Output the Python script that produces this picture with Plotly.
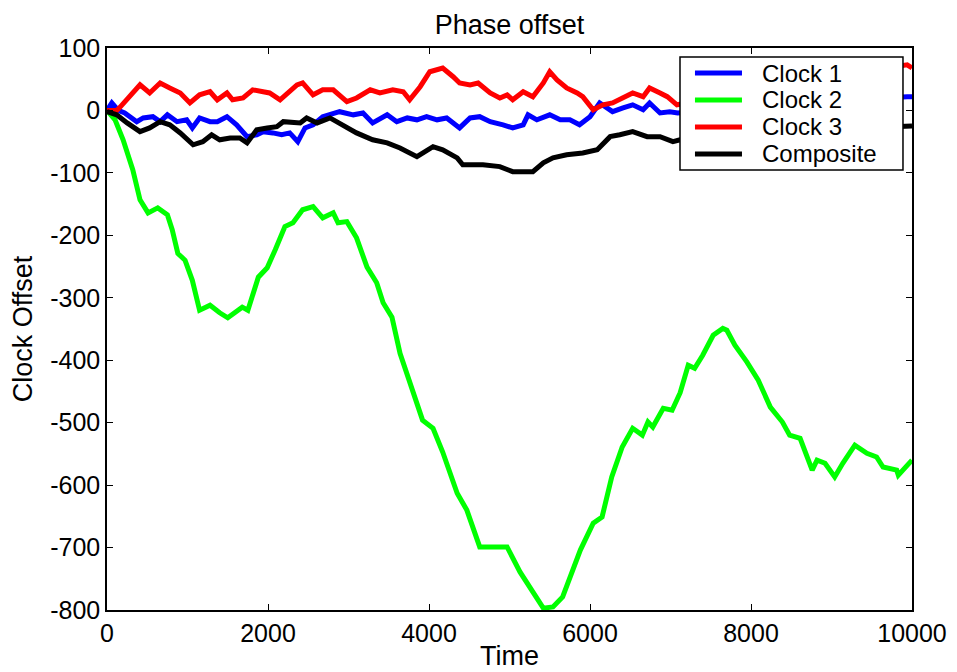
import plotly.graph_objects as go

# ---------------- data ----------------
clock1_t = [0, 60, 140, 220, 370, 450, 570, 660, 750, 870, 990, 1060, 1150, 1280, 1370,
            1490, 1610, 1740, 1860, 1940, 2060, 2170, 2270, 2370, 2460, 2560, 2680, 2890,
            3060, 3180, 3300, 3480, 3600, 3730, 3850, 3970, 4100, 4220, 4380, 4510, 4630,
            4760, 4920, 5040, 5170, 5230, 5340, 5500, 5630, 5750, 5870, 6000, 6120, 6280,
            6410, 6530, 6660, 6740, 6870, 6990, 7090, 8000, 9000, 9940, 10000]
clock1_v = [0, 12, 0, -4, -18, -12, -10, -18, -7, -18, -15, -28, -12, -18, -18,
            -10, -23, -42, -39, -34, -36, -39, -36, -50, -28, -23, -10, -2,
            -7, -4, -20, -7, -18, -12, -15, -10, -15, -12, -28, -12, -10,
            -18, -23, -28, -23, -7, -15, -7, -15, -15, -23, -10, 12, -2,
            4, 9, 1, 12, -4, -2, -4, 5, 15, 22, 22]

clock2_t = [0, 100, 200, 320, 410, 510, 630, 750, 810, 880, 970, 1060, 1150, 1280, 1400,
            1500, 1680, 1750, 1880, 1990, 2090, 2210, 2310, 2430, 2560, 2680, 2810, 2870,
            2980, 3100, 3230, 3350, 3430, 3540, 3640, 3760, 3920, 4050, 4170, 4350, 4470,
            4630, 4800, 4970, 5130, 5290, 5420, 5540, 5660, 5880, 6040, 6150, 6270, 6400,
            6530, 6650, 6720, 6780, 6910, 7020, 7120, 7220, 7300, 7400, 7530, 7650, 7700,
            7800, 7950, 8090, 8240, 8390, 8480, 8610, 8760, 8820, 8920, 9040, 9140, 9290,
            9440, 9560, 9640, 9810, 9830, 10000]
clock2_v = [0, -15, -47, -95, -143, -164, -156, -167, -191, -229, -240, -272, -320, -312, -324,
            -332, -315, -320, -267, -252, -223, -186, -180, -159, -154, -172, -164, -180,
            -178, -204, -251, -276, -308, -331, -389, -435, -496, -509, -547, -613, -640,
            -699, -699, -699, -739, -773, -797, -795, -779, -704, -661, -651, -587, -539,
            -509, -520, -499, -507, -477, -480, -452, -408, -413, -392, -360, -349, -352,
            -376, -403, -432, -475, -499, -520, -525, -576, -560, -565, -587, -565, -536,
            -549, -555, -571, -576, -584, -560]

clock3_t = [0, 120, 160, 290, 410, 530, 660, 780, 910, 1030, 1150, 1280, 1370, 1490, 1560,
            1690, 1810, 1940, 2020, 2150, 2270, 2360, 2430, 2560, 2680, 2810, 2980, 3100,
            3270, 3390, 3550, 3680, 3760, 3890, 4010, 4170, 4300, 4380, 4510, 4610, 4760,
            4880, 4970, 5040, 5170, 5290, 5420, 5500, 5590, 5710, 5840, 5910, 6040, 6160,
            6280, 6410, 6530, 6660, 6740, 6870, 6960, 7080, 8000, 9000, 9940, 10000]
clock3_v = [0, 0, 5, 25, 41, 28, 44, 36, 28, 12, 25, 30, 17, 28, 17,
            20, 33, 30, 28, 17, 30, 41, 44, 25, 33, 33, 14, 20,
            33, 28, 33, 30, 17, 38, 62, 68, 54, 44, 41, 44, 28,
            20, 25, 17, 30, 22, 44, 62, 49, 36, 28, 22, 1, 9,
            12, 20, 28, 22, 36, 28, 22, 9, 30, 55, 73, 68]

comp_t = [0, 120, 250, 410, 530, 660, 780, 910, 1070, 1190, 1300, 1400, 1530, 1650, 1740,
          1860, 1990, 2110, 2190, 2310, 2400, 2480, 2610, 2770, 2930, 3100, 3300, 3480,
          3640, 3850, 4050, 4170, 4350, 4420, 4670, 4880, 5040, 5290, 5420, 5540, 5710,
          5910, 6090, 6250, 6370, 6530, 6710, 6870, 7030, 7120, 8000, 9000, 9940, 10000]
comp_v = [-2, -7, -20, -34, -28, -18, -23, -36, -55, -50, -39, -47, -44, -44, -52,
          -31, -28, -26, -18, -18, -20, -12, -20, -12, -23, -36, -47, -52,
          -60, -74, -58, -63, -76, -87, -87, -90, -98, -98, -84, -76, -71,
          -68, -63, -42, -39, -34, -42, -42, -50, -47, -35, -30, -26, -25]

series_names = ["Clock 1", "Clock 2", "Clock 3", "Composite"]
series_colors = ["#0000ff", "#00ff00", "#ff0000", "#000000"]

x_ticks = [0, 2000, 4000, 6000, 8000, 10000]
x_tick_labels = ["0", "2000", "4000", "6000", "8000", "10000"]
y_ticks = [100, 0, -100, -200, -300, -400, -500, -600, -700, -800]
y_tick_labels = ["100", "0", "-100", "-200", "-300", "-400", "-500", "-600", "-700", "-800"]

# ---------------- figure ----------------
FONT = "Liberation Sans, Arial, Helvetica, sans-serif"
fig = go.Figure()
data = [(clock1_t, clock1_v), (clock2_t, clock2_v), (clock3_t, clock3_v), (comp_t, comp_v)]
for (t, v), name, col in zip(data, series_names, series_colors):
    fig.add_trace(go.Scatter(x=t, y=v, mode="lines", name=name, showlegend=False,
                             line=dict(color=col, width=5)))

axis_common = dict(showgrid=False, zeroline=False, showline=True, linecolor="black",
                   linewidth=1.5, mirror="ticks", ticks="inside", ticklen=6,
                   tickcolor="black", tickwidth=1.2, automargin=False,
                   tickfont=dict(family=FONT, size=25, color="black"))
fig.update_xaxes(range=[0, 10000], tickvals=x_ticks, ticktext=x_tick_labels,
                 title=dict(text="Time", font=dict(family=FONT, size=27, color="black"), standoff=0),
                 **axis_common)
fig.update_yaxes(range=[-800, 100], tickvals=y_ticks, ticktext=y_tick_labels,
                 title=dict(text="Clock Offset", font=dict(family=FONT, size=27, color="black"), standoff=10),
                 **axis_common)

# manual legend (MATLAB style box)
lx0, lx1, ly0, ly1 = 0.7118, 0.9888, 0.7830, 0.984
shapes = [dict(type="rect", xref="paper", yref="paper", x0=lx0, x1=lx1, y0=ly0, y1=ly1,
               fillcolor="white", line=dict(color="black", width=1.5), layer="above")]
annotations = []
item_y = [0.9555, 0.9075, 0.8595, 0.8115]
for name, col, yy in zip(series_names, series_colors, item_y):
    shapes.append(dict(type="line", xref="paper", yref="paper", x0=0.7304, x1=0.7888,
                       y0=yy, y1=yy, line=dict(color=col, width=5), layer="above"))
    annotations.append(dict(text=name, xref="paper", yref="paper", x=0.8112, y=yy,
                            xanchor="left", yanchor="middle", showarrow=False,
                            font=dict(family=FONT, size=24, color="black")))

fig.update_layout(
    width=949, height=664, autosize=False,
    margin=dict(l=99, r=45, t=40, b=62),
    paper_bgcolor="white", plot_bgcolor="white",
    title=dict(text="Phase offset", xref="paper", x=0.5, xanchor="center",
               yref="container", y=0.975, yanchor="middle",
               font=dict(family=FONT, size=27, color="black")),
    shapes=shapes, annotations=annotations,
)

fig.write_html("out.html")
